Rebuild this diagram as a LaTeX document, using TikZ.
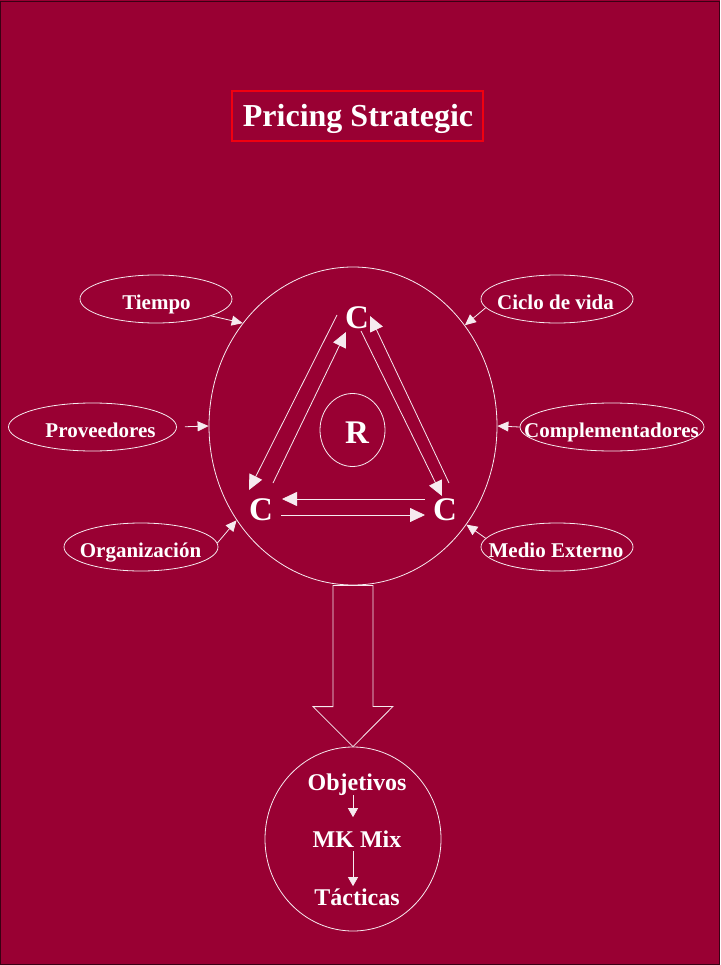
\documentclass[tikz,border=0pt]{standalone}
\usepackage{fontspec}
\setmainfont{Liberation Serif}
\usetikzlibrary{arrows.meta,shapes.geometric}
\definecolor{wine}{HTML}{990033}
\definecolor{rim}{HTML}{3A0014}
\definecolor{titlered}{HTML}{F00010}
\definecolor{chalk}{HTML}{F6EAEF}
\begin{document}
\begin{tikzpicture}[x=1pt,y=-1pt,
  oval/.style={draw=chalk, line width=0.8pt, ellipse, inner sep=0pt},
  lbl/.style={text=white, font=\fontsize{21}{25}\selectfont\bfseries, anchor=base, inner sep=0pt},
  letter/.style={text=white, font=\fontsize{33}{38}\selectfont\bfseries, anchor=base, inner sep=0pt},
  stage/.style={text=white, font=\fontsize{24}{28}\selectfont\bfseries, anchor=base, inner sep=0pt},
  feed/.style={draw=chalk, line width=0.8pt, -{Triangle[length=11pt,width=10pt]}},
  flow/.style={draw=chalk, line width=0.8pt, -{Triangle[length=15pt,width=14pt]}},
  stagearrow/.style={draw=chalk, line width=0.8pt, -{Triangle[length=9pt,width=10pt]}},
]
% page
\useasboundingbox (0,0) rectangle (720,965);
\fill[wine] (0,0) rectangle (720,965);
\draw[rim, line width=1pt] (0.5,1.5) rectangle (719.5,964.5);

% title
\node[draw=titlered, line width=1.3pt, minimum width=251pt, minimum height=50pt, inner sep=0pt] (titlebox) at (357.5,116) {};
\node[text=white, font=\fontsize{32}{38}\selectfont\bfseries, anchor=base, inner sep=0pt] (title) at (358,127) {Pricing Strategic};

% central model
\node[oval, minimum width=288pt, minimum height=318pt] (main) at (353,426) {};
\node[oval, minimum width=65pt, minimum height=73pt] (rcirc) at (352.5,430) {};
\node[letter] (r) at (357,443) {R};
\node[letter] (ctop) at (357,328) {C};
\node[letter] (cleft) at (261,520) {C};
\node[letter] (cright) at (445,520) {C};

% arrows of the triangle
\coordinate (l1s) at (337,315); \coordinate (l1e) at (249,490);
\coordinate (l2s) at (273,483); \coordinate (l2e) at (346,332);
\coordinate (r1s) at (361,331); \coordinate (r1e) at (442,496);
\coordinate (r2s) at (449,483); \coordinate (r2e) at (370,316);
\coordinate (b1s) at (425,499); \coordinate (b1e) at (282,499);
\coordinate (b2s) at (281,515); \coordinate (b2e) at (425,515);
\draw[flow] (l1s) -- (l1e);
\draw[flow] (l2s) -- (l2e);
\draw[flow] (r1s) -- (r1e);
\draw[flow] (r2s) -- (r2e);
\draw[flow] (b1s) -- (b1e);
\draw[flow] (b2s) -- (b2e);

% surrounding factors
\node[oval, minimum width=152pt, minimum height=48pt] (tiempo) at (156,299) {};
\node[lbl] at (156.5,309) {Tiempo};
\node[oval, minimum width=168pt, minimum height=48pt] (prov) at (92.5,427) {};
\node[lbl] at (100.5,437) {Proveedores};
\node[oval, minimum width=154pt, minimum height=48pt] (org) at (141,547) {};
\node[lbl] at (140.5,557) {Organización};
\node[oval, minimum width=152pt, minimum height=48pt] (ciclo) at (557,299) {};
\node[lbl] at (555.5,309) {Ciclo de vida};
\node[oval, minimum width=184pt, minimum height=48pt] (comp) at (612,427) {};
\node[lbl] at (611.5,437) {Complementadores};
\node[oval, minimum width=152pt, minimum height=48pt] (medio) at (557,547) {};
\node[lbl] at (556,557) {Medio Externo};

\draw[feed] (tiempo.-17) -- (main.137.7);
\draw[feed, shorten <=8pt] (prov.east) -- (main.west);
\draw[feed] (org.3) -- (main.219.5);
\draw[feed] (ciclo.187) -- (main.42.6);
\draw[feed] (comp.west) -- (main.east);
\draw[feed] (medio.173) -- (main.-41.2);

% outcome
\node[oval, minimum width=176pt, minimum height=184pt] (result) at (353,839) {};
\draw[chalk, line width=0.8pt, line join=miter]
  (main.south) ++(-20,0) -- ++(40,0) -- ++(0,121) -- ++(20,0) -- (result.north)
  -- ++(-40,-40) -- ++(20,0) -- cycle;

\node[stage] (obj) at (357,790) {Objetivos};
\node[stage] (mk) at (357,847) {MK Mix};
\node[stage] (tac) at (357,905) {Tácticas};
\draw[stagearrow, shorten >=13pt] ([xshift=-4pt]obj.south) -- ([xshift=-4pt]mk.north);
\draw[stagearrow, shorten <=4pt, shorten >=2pt] ([xshift=-4pt]mk.south) -- ([xshift=-4pt]tac.north);
\end{tikzpicture}
\end{document}
